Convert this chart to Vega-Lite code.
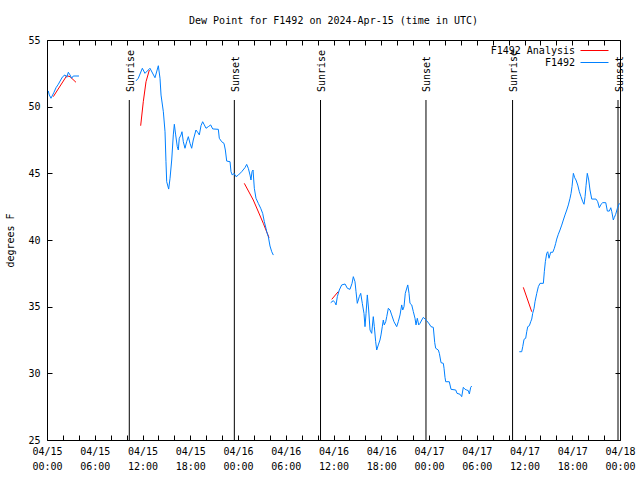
{
  "$schema": "https://vega.github.io/schema/vega-lite/v6.json",
  "width": 573,
  "height": 400,
  "autosize": {"type": "none"},
  "padding": {"left": 47, "top": 40, "right": 20, "bottom": 40},
  "background": "white",
  "title": {"text": "Dew Point for F1492 on 2024-Apr-15 (time in UTC)", "font": "DejaVu Sans Mono", "fontSize": 10, "fontWeight": "normal", "color": "black", "offset": 9, "anchor": "middle"},
  "config": {
    "view": {"stroke": "black", "strokeWidth": 1},
    "axis": {"grid": false, "domain": false, "tickColor": "black", "tickWidth": 1, "labelColor": "black", "labelFont": "DejaVu Sans Mono", "labelFontSize": 10, "titleFont": "DejaVu Sans Mono", "titleFontSize": 10, "titleFontWeight": "normal", "titleColor": "black"},
    "legend": {"orient": "none", "legendX": 542, "legendY": 5, "title": null, "symbolType": "M-2.8,0H2.8", "symbolSize": 100, "symbolStrokeWidth": 1, "labelAlign": "right", "labelOffset": -25, "labelFont": "DejaVu Sans Mono", "labelFontSize": 10, "labelColor": "black", "rowPadding": 1, "padding": 0}
  },
  "datasets": {
    "sun": [
      {"event": "Sunrise", "hour": 10.34},
      {"event": "Sunset", "hour": 23.54},
      {"event": "Sunrise", "hour": 34.37},
      {"event": "Sunset", "hour": 47.62},
      {"event": "Sunrise", "hour": 58.5},
      {"event": "Sunset", "hour": 71.75}
    ],
    "obs": [
      {"series": "F1492 Analysis", "seg": 1, "hour": 0.79, "value": 50.75},
      {"series": "F1492 Analysis", "seg": 1, "hour": 2.48, "value": 52.32},
      {"series": "F1492 Analysis", "seg": 1, "hour": 2.89, "value": 52.25},
      {"series": "F1492 Analysis", "seg": 1, "hour": 3.64, "value": 51.83},
      {"series": "F1492 Analysis", "seg": 2, "hour": 11.77, "value": 48.57},
      {"series": "F1492 Analysis", "seg": 2, "hour": 12.1, "value": 50.37},
      {"series": "F1492 Analysis", "seg": 2, "hour": 12.44, "value": 51.87},
      {"series": "F1492 Analysis", "seg": 2, "hour": 12.86, "value": 52.75},
      {"series": "F1492 Analysis", "seg": 3, "hour": 24.79, "value": 44.25},
      {"series": "F1492 Analysis", "seg": 3, "hour": 25.92, "value": 43.0},
      {"series": "F1492 Analysis", "seg": 3, "hour": 27.18, "value": 41.25},
      {"series": "F1492 Analysis", "seg": 3, "hour": 27.9, "value": 40.17},
      {"series": "F1492 Analysis", "seg": 4, "hour": 35.78, "value": 35.55},
      {"series": "F1492 Analysis", "seg": 4, "hour": 36.6, "value": 36.13},
      {"series": "F1492 Analysis", "seg": 5, "hour": 59.85, "value": 36.45},
      {"series": "F1492 Analysis", "seg": 5, "hour": 60.91, "value": 34.62},

      {"series": "F1492", "seg": 1, "hour": 0.16, "value": 51.18},
      {"series": "F1492", "seg": 1, "hour": 0.29, "value": 50.88},
      {"series": "F1492", "seg": 1, "hour": 0.5, "value": 50.63},
      {"series": "F1492", "seg": 1, "hour": 0.88, "value": 51.08},
      {"series": "F1492", "seg": 1, "hour": 1.13, "value": 51.42},
      {"series": "F1492", "seg": 1, "hour": 1.42, "value": 51.68},
      {"series": "F1492", "seg": 1, "hour": 1.72, "value": 52.0},
      {"series": "F1492", "seg": 1, "hour": 1.97, "value": 52.25},
      {"series": "F1492", "seg": 1, "hour": 2.26, "value": 52.38},
      {"series": "F1492", "seg": 1, "hour": 2.48, "value": 52.2},
      {"series": "F1492", "seg": 1, "hour": 2.68, "value": 52.58},
      {"series": "F1492", "seg": 1, "hour": 2.89, "value": 52.38},
      {"series": "F1492", "seg": 1, "hour": 3.1, "value": 52.13},
      {"series": "F1492", "seg": 1, "hour": 3.3, "value": 52.3},
      {"series": "F1492", "seg": 1, "hour": 4.02, "value": 52.3},

      {"series": "F1492", "seg": 2, "hour": 11.18, "value": 51.93},
      {"series": "F1492", "seg": 2, "hour": 11.47, "value": 52.13},
      {"series": "F1492", "seg": 2, "hour": 11.98, "value": 52.88},
      {"series": "F1492", "seg": 2, "hour": 12.31, "value": 52.5},
      {"series": "F1492", "seg": 2, "hour": 12.94, "value": 52.88},
      {"series": "F1492", "seg": 2, "hour": 13.57, "value": 52.17},
      {"series": "F1492", "seg": 2, "hour": 13.99, "value": 53.07},
      {"series": "F1492", "seg": 2, "hour": 14.2, "value": 52.13},
      {"series": "F1492", "seg": 2, "hour": 14.33, "value": 50.87},
      {"series": "F1492", "seg": 2, "hour": 14.62, "value": 49.62},
      {"series": "F1492", "seg": 2, "hour": 14.83, "value": 48.12},
      {"series": "F1492", "seg": 2, "hour": 14.95, "value": 45.87},
      {"series": "F1492", "seg": 2, "hour": 15.04, "value": 44.37},
      {"series": "F1492", "seg": 2, "hour": 15.29, "value": 43.82},
      {"series": "F1492", "seg": 2, "hour": 15.46, "value": 44.63},
      {"series": "F1492", "seg": 2, "hour": 15.67, "value": 46.0},
      {"series": "F1492", "seg": 2, "hour": 15.87, "value": 47.88},
      {"series": "F1492", "seg": 2, "hour": 16.0, "value": 48.68},
      {"series": "F1492", "seg": 2, "hour": 16.17, "value": 47.88},
      {"series": "F1492", "seg": 2, "hour": 16.37, "value": 47.0},
      {"series": "F1492", "seg": 2, "hour": 16.5, "value": 46.75},
      {"series": "F1492", "seg": 2, "hour": 16.62, "value": 47.63},
      {"series": "F1492", "seg": 2, "hour": 16.84, "value": 47.88},
      {"series": "F1492", "seg": 2, "hour": 16.96, "value": 48.12},
      {"series": "F1492", "seg": 2, "hour": 17.13, "value": 47.37},
      {"series": "F1492", "seg": 2, "hour": 17.34, "value": 46.88},
      {"series": "F1492", "seg": 2, "hour": 17.55, "value": 47.37},
      {"series": "F1492", "seg": 2, "hour": 17.76, "value": 47.75},
      {"series": "F1492", "seg": 2, "hour": 17.97, "value": 47.25},
      {"series": "F1492", "seg": 2, "hour": 18.18, "value": 46.88},
      {"series": "F1492", "seg": 2, "hour": 18.38, "value": 47.5},
      {"series": "F1492", "seg": 2, "hour": 18.72, "value": 48.25},
      {"series": "F1492", "seg": 2, "hour": 18.93, "value": 48.08},
      {"series": "F1492", "seg": 2, "hour": 19.14, "value": 47.88},
      {"series": "F1492", "seg": 2, "hour": 19.35, "value": 48.57},
      {"series": "F1492", "seg": 2, "hour": 19.56, "value": 48.87},
      {"series": "F1492", "seg": 2, "hour": 19.77, "value": 48.63},
      {"series": "F1492", "seg": 2, "hour": 19.98, "value": 48.38},
      {"series": "F1492", "seg": 2, "hour": 20.27, "value": 48.5},
      {"series": "F1492", "seg": 2, "hour": 20.57, "value": 48.63},
      {"series": "F1492", "seg": 2, "hour": 20.82, "value": 48.33},
      {"series": "F1492", "seg": 2, "hour": 21.53, "value": 48.3},
      {"series": "F1492", "seg": 2, "hour": 21.65, "value": 47.63},
      {"series": "F1492", "seg": 2, "hour": 21.95, "value": 47.37},
      {"series": "F1492", "seg": 2, "hour": 22.24, "value": 47.25},
      {"series": "F1492", "seg": 2, "hour": 22.41, "value": 46.75},
      {"series": "F1492", "seg": 2, "hour": 22.58, "value": 45.92},
      {"series": "F1492", "seg": 2, "hour": 23.0, "value": 45.87},
      {"series": "F1492", "seg": 2, "hour": 23.12, "value": 45.12},
      {"series": "F1492", "seg": 2, "hour": 23.29, "value": 44.87},
      {"series": "F1492", "seg": 2, "hour": 23.5, "value": 45.0},
      {"series": "F1492", "seg": 2, "hour": 23.75, "value": 44.75},
      {"series": "F1492", "seg": 2, "hour": 24.04, "value": 44.87},
      {"series": "F1492", "seg": 2, "hour": 24.46, "value": 45.12},
      {"series": "F1492", "seg": 2, "hour": 24.88, "value": 45.43},
      {"series": "F1492", "seg": 2, "hour": 25.09, "value": 45.67},
      {"series": "F1492", "seg": 2, "hour": 25.3, "value": 45.37},
      {"series": "F1492", "seg": 2, "hour": 25.51, "value": 44.87},
      {"series": "F1492", "seg": 2, "hour": 25.63, "value": 44.5},
      {"series": "F1492", "seg": 2, "hour": 25.76, "value": 45.12},
      {"series": "F1492", "seg": 2, "hour": 25.89, "value": 45.25},
      {"series": "F1492", "seg": 2, "hour": 26.05, "value": 43.88},
      {"series": "F1492", "seg": 2, "hour": 26.26, "value": 43.13},
      {"series": "F1492", "seg": 2, "hour": 26.55, "value": 42.75},
      {"series": "F1492", "seg": 2, "hour": 26.85, "value": 42.38},
      {"series": "F1492", "seg": 2, "hour": 27.1, "value": 42.0},
      {"series": "F1492", "seg": 2, "hour": 27.31, "value": 41.37},
      {"series": "F1492", "seg": 2, "hour": 27.52, "value": 40.87},
      {"series": "F1492", "seg": 2, "hour": 27.61, "value": 40.62},
      {"series": "F1492", "seg": 2, "hour": 27.81, "value": 40.25},
      {"series": "F1492", "seg": 2, "hour": 28.02, "value": 39.55},
      {"series": "F1492", "seg": 2, "hour": 28.24, "value": 39.12},
      {"series": "F1492", "seg": 2, "hour": 28.44, "value": 38.87},

      {"series": "F1492", "seg": 3, "hour": 35.65, "value": 35.3},
      {"series": "F1492", "seg": 3, "hour": 35.98, "value": 35.45},
      {"series": "F1492", "seg": 3, "hour": 36.19, "value": 35.3},
      {"series": "F1492", "seg": 3, "hour": 36.32, "value": 35.13},
      {"series": "F1492", "seg": 3, "hour": 36.48, "value": 35.75},
      {"series": "F1492", "seg": 3, "hour": 36.73, "value": 36.25},
      {"series": "F1492", "seg": 3, "hour": 37.03, "value": 36.63},
      {"series": "F1492", "seg": 3, "hour": 37.45, "value": 36.7},
      {"series": "F1492", "seg": 3, "hour": 37.74, "value": 36.38},
      {"series": "F1492", "seg": 3, "hour": 38.07, "value": 36.3},
      {"series": "F1492", "seg": 3, "hour": 38.33, "value": 36.75},
      {"series": "F1492", "seg": 3, "hour": 38.49, "value": 37.25},
      {"series": "F1492", "seg": 3, "hour": 38.7, "value": 36.87},
      {"series": "F1492", "seg": 3, "hour": 38.83, "value": 36.12},
      {"series": "F1492", "seg": 3, "hour": 38.99, "value": 35.25},
      {"series": "F1492", "seg": 3, "hour": 39.24, "value": 35.75},
      {"series": "F1492", "seg": 3, "hour": 39.42, "value": 36.0},
      {"series": "F1492", "seg": 3, "hour": 39.62, "value": 35.25},
      {"series": "F1492", "seg": 3, "hour": 39.83, "value": 34.5},
      {"series": "F1492", "seg": 3, "hour": 39.96, "value": 33.5},
      {"series": "F1492", "seg": 3, "hour": 40.09, "value": 34.5},
      {"series": "F1492", "seg": 3, "hour": 40.25, "value": 35.88},
      {"series": "F1492", "seg": 3, "hour": 40.42, "value": 34.75},
      {"series": "F1492", "seg": 3, "hour": 40.59, "value": 33.25},
      {"series": "F1492", "seg": 3, "hour": 40.8, "value": 33.0},
      {"series": "F1492", "seg": 3, "hour": 41.0, "value": 34.25},
      {"series": "F1492", "seg": 3, "hour": 41.13, "value": 33.5},
      {"series": "F1492", "seg": 3, "hour": 41.3, "value": 32.37},
      {"series": "F1492", "seg": 3, "hour": 41.43, "value": 31.75},
      {"series": "F1492", "seg": 3, "hour": 41.63, "value": 32.13},
      {"series": "F1492", "seg": 3, "hour": 41.84, "value": 32.5},
      {"series": "F1492", "seg": 3, "hour": 41.97, "value": 32.88},
      {"series": "F1492", "seg": 3, "hour": 42.13, "value": 33.5},
      {"series": "F1492", "seg": 3, "hour": 42.26, "value": 34.0},
      {"series": "F1492", "seg": 3, "hour": 42.38, "value": 33.63},
      {"series": "F1492", "seg": 3, "hour": 42.56, "value": 33.87},
      {"series": "F1492", "seg": 3, "hour": 42.69, "value": 34.25},
      {"series": "F1492", "seg": 3, "hour": 42.89, "value": 34.88},
      {"series": "F1492", "seg": 3, "hour": 43.1, "value": 34.75},
      {"series": "F1492", "seg": 3, "hour": 43.31, "value": 34.38},
      {"series": "F1492", "seg": 3, "hour": 43.6, "value": 33.87},
      {"series": "F1492", "seg": 3, "hour": 43.94, "value": 33.5},
      {"series": "F1492", "seg": 3, "hour": 44.14, "value": 33.87},
      {"series": "F1492", "seg": 3, "hour": 44.36, "value": 34.38},
      {"series": "F1492", "seg": 3, "hour": 44.57, "value": 35.13},
      {"series": "F1492", "seg": 3, "hour": 44.7, "value": 34.75},
      {"series": "F1492", "seg": 3, "hour": 44.86, "value": 35.0},
      {"series": "F1492", "seg": 3, "hour": 45.02, "value": 36.0},
      {"series": "F1492", "seg": 3, "hour": 45.33, "value": 36.63},
      {"series": "F1492", "seg": 3, "hour": 45.49, "value": 36.0},
      {"series": "F1492", "seg": 3, "hour": 45.61, "value": 35.25},
      {"series": "F1492", "seg": 3, "hour": 45.83, "value": 35.13},
      {"series": "F1492", "seg": 3, "hour": 46.03, "value": 34.63},
      {"series": "F1492", "seg": 3, "hour": 46.24, "value": 34.13},
      {"series": "F1492", "seg": 3, "hour": 46.37, "value": 33.63},
      {"series": "F1492", "seg": 3, "hour": 46.53, "value": 34.13},
      {"series": "F1492", "seg": 3, "hour": 46.71, "value": 33.63},
      {"series": "F1492", "seg": 3, "hour": 46.87, "value": 33.75},
      {"series": "F1492", "seg": 3, "hour": 47.09, "value": 34.0},
      {"series": "F1492", "seg": 3, "hour": 47.29, "value": 34.2},
      {"series": "F1492", "seg": 3, "hour": 47.71, "value": 33.95},
      {"series": "F1492", "seg": 3, "hour": 48.04, "value": 33.7},
      {"series": "F1492", "seg": 3, "hour": 48.25, "value": 33.5},
      {"series": "F1492", "seg": 3, "hour": 48.54, "value": 33.45},
      {"series": "F1492", "seg": 3, "hour": 48.72, "value": 32.3},
      {"series": "F1492", "seg": 3, "hour": 48.84, "value": 31.88},
      {"series": "F1492", "seg": 3, "hour": 49.17, "value": 31.75},
      {"series": "F1492", "seg": 3, "hour": 49.3, "value": 31.5},
      {"series": "F1492", "seg": 3, "hour": 49.51, "value": 30.8},
      {"series": "F1492", "seg": 3, "hour": 49.8, "value": 30.75},
      {"series": "F1492", "seg": 3, "hour": 49.89, "value": 30.38},
      {"series": "F1492", "seg": 3, "hour": 50.01, "value": 29.7},
      {"series": "F1492", "seg": 3, "hour": 50.1, "value": 29.37},
      {"series": "F1492", "seg": 3, "hour": 50.55, "value": 29.37},
      {"series": "F1492", "seg": 3, "hour": 50.77, "value": 28.8},
      {"series": "F1492", "seg": 3, "hour": 51.36, "value": 28.75},
      {"series": "F1492", "seg": 3, "hour": 51.52, "value": 28.5},
      {"series": "F1492", "seg": 3, "hour": 51.9, "value": 28.43},
      {"series": "F1492", "seg": 3, "hour": 52.11, "value": 28.25},
      {"series": "F1492", "seg": 3, "hour": 52.31, "value": 28.95},
      {"series": "F1492", "seg": 3, "hour": 52.53, "value": 28.8},
      {"series": "F1492", "seg": 3, "hour": 52.74, "value": 28.75},
      {"series": "F1492", "seg": 3, "hour": 52.94, "value": 28.7},
      {"series": "F1492", "seg": 3, "hour": 53.07, "value": 28.45},
      {"series": "F1492", "seg": 3, "hour": 53.24, "value": 28.95},
      {"series": "F1492", "seg": 3, "hour": 53.37, "value": 29.05},

      {"series": "F1492", "seg": 4, "hour": 59.35, "value": 31.62},
      {"series": "F1492", "seg": 4, "hour": 59.65, "value": 31.62},
      {"series": "F1492", "seg": 4, "hour": 59.78, "value": 32.0},
      {"series": "F1492", "seg": 4, "hour": 59.94, "value": 32.55},
      {"series": "F1492", "seg": 4, "hour": 60.15, "value": 32.63},
      {"series": "F1492", "seg": 4, "hour": 60.28, "value": 33.12},
      {"series": "F1492", "seg": 4, "hour": 60.41, "value": 33.5},
      {"series": "F1492", "seg": 4, "hour": 60.61, "value": 33.57},
      {"series": "F1492", "seg": 4, "hour": 60.78, "value": 33.87},
      {"series": "F1492", "seg": 4, "hour": 60.91, "value": 34.07},
      {"series": "F1492", "seg": 4, "hour": 61.03, "value": 34.5},
      {"series": "F1492", "seg": 4, "hour": 61.2, "value": 34.88},
      {"series": "F1492", "seg": 4, "hour": 61.32, "value": 35.37},
      {"series": "F1492", "seg": 4, "hour": 61.54, "value": 36.0},
      {"series": "F1492", "seg": 4, "hour": 61.74, "value": 36.5},
      {"series": "F1492", "seg": 4, "hour": 61.95, "value": 36.75},
      {"series": "F1492", "seg": 4, "hour": 62.37, "value": 36.75},
      {"series": "F1492", "seg": 4, "hour": 62.49, "value": 37.62},
      {"series": "F1492", "seg": 4, "hour": 62.62, "value": 38.37},
      {"series": "F1492", "seg": 4, "hour": 62.79, "value": 39.0},
      {"series": "F1492", "seg": 4, "hour": 62.92, "value": 39.12},
      {"series": "F1492", "seg": 4, "hour": 63.08, "value": 38.63},
      {"series": "F1492", "seg": 4, "hour": 63.29, "value": 39.08},
      {"series": "F1492", "seg": 4, "hour": 63.55, "value": 39.08},
      {"series": "F1492", "seg": 4, "hour": 63.75, "value": 39.38},
      {"series": "F1492", "seg": 4, "hour": 63.92, "value": 39.75},
      {"series": "F1492", "seg": 4, "hour": 64.05, "value": 40.07},
      {"series": "F1492", "seg": 4, "hour": 64.25, "value": 40.43},
      {"series": "F1492", "seg": 4, "hour": 64.46, "value": 40.75},
      {"series": "F1492", "seg": 4, "hour": 64.68, "value": 41.12},
      {"series": "F1492", "seg": 4, "hour": 64.88, "value": 41.5},
      {"series": "F1492", "seg": 4, "hour": 65.09, "value": 41.88},
      {"series": "F1492", "seg": 4, "hour": 65.31, "value": 42.25},
      {"series": "F1492", "seg": 4, "hour": 65.51, "value": 42.63},
      {"series": "F1492", "seg": 4, "hour": 65.72, "value": 43.13},
      {"series": "F1492", "seg": 4, "hour": 65.85, "value": 43.5},
      {"series": "F1492", "seg": 4, "hour": 65.97, "value": 44.0},
      {"series": "F1492", "seg": 4, "hour": 66.14, "value": 45.0},
      {"series": "F1492", "seg": 4, "hour": 66.31, "value": 44.67},
      {"series": "F1492", "seg": 4, "hour": 66.47, "value": 44.5},
      {"series": "F1492", "seg": 4, "hour": 66.69, "value": 44.12},
      {"series": "F1492", "seg": 4, "hour": 66.89, "value": 43.62},
      {"series": "F1492", "seg": 4, "hour": 67.1, "value": 43.25},
      {"series": "F1492", "seg": 4, "hour": 67.32, "value": 42.87},
      {"series": "F1492", "seg": 4, "hour": 67.48, "value": 42.68},
      {"series": "F1492", "seg": 4, "hour": 67.61, "value": 43.25},
      {"series": "F1492", "seg": 4, "hour": 67.73, "value": 44.07},
      {"series": "F1492", "seg": 4, "hour": 67.89, "value": 45.0},
      {"series": "F1492", "seg": 4, "hour": 68.07, "value": 44.5},
      {"series": "F1492", "seg": 4, "hour": 68.23, "value": 43.75},
      {"series": "F1492", "seg": 4, "hour": 68.45, "value": 43.07},
      {"series": "F1492", "seg": 4, "hour": 68.99, "value": 43.07},
      {"series": "F1492", "seg": 4, "hour": 69.2, "value": 42.87},
      {"series": "F1492", "seg": 4, "hour": 69.4, "value": 42.42},
      {"series": "F1492", "seg": 4, "hour": 69.62, "value": 42.68},
      {"series": "F1492", "seg": 4, "hour": 69.83, "value": 42.8},
      {"series": "F1492", "seg": 4, "hour": 70.21, "value": 42.8},
      {"series": "F1492", "seg": 4, "hour": 70.41, "value": 42.17},
      {"series": "F1492", "seg": 4, "hour": 70.66, "value": 42.17},
      {"series": "F1492", "seg": 4, "hour": 70.84, "value": 42.42},
      {"series": "F1492", "seg": 4, "hour": 70.97, "value": 42.12},
      {"series": "F1492", "seg": 4, "hour": 71.16, "value": 41.5},
      {"series": "F1492", "seg": 4, "hour": 71.29, "value": 41.7},
      {"series": "F1492", "seg": 4, "hour": 71.46, "value": 41.93},
      {"series": "F1492", "seg": 4, "hour": 71.67, "value": 42.37},
      {"series": "F1492", "seg": 4, "hour": 71.92, "value": 42.75}
    ]
  },
  "resolve": {"axis": {"x": "independent", "y": "independent"}},
  "layer": [
    {
      "data": {"name": "sun"},
      "mark": {"type": "rule", "color": "black", "strokeWidth": 1},
      "encoding": {
        "x": {"field": "hour", "type": "quantitative", "scale": {"domain": [0, 72], "nice": false, "zero": false},
          "axis": {"orient": "bottom", "values": [0,2,4,6,8,10,12,14,16,18,20,22,24,26,28,30,32,34,36,38,40,42,44,46,48,50,52,54,56,58,60,62,64,66,68,70,72], "tickSize": -5, "labelPadding": 11, "labelBaseline": "top", "labelLineHeight": 15, "labelAngle": 0, "labelOverlap": false, "labelFlush": false, "title": null,
            "labelExpr": "datum.value % 6 == 0 ? [utcFormat(utc(2024,3,15) + datum.value*3600000, '%m/%d'), utcFormat(utc(2024,3,15) + datum.value*3600000, '%H:%M')] : ''"}},
        "y": {"datum": 50.5, "type": "quantitative", "scale": {"domain": [25, 55], "nice": false, "zero": false},
          "axis": {"orient": "left", "values": [25,30,35,40,45,50,55], "tickSize": -5, "labelPadding": 12, "title": "degrees F", "titlePadding": 12, "labelFlush": false}},
        "y2": {"datum": 25}
      }
    },
    {
      "data": {"name": "sun"},
      "mark": {"type": "text", "angle": 270, "align": "left", "baseline": "middle", "dy": 1.5, "font": "DejaVu Sans Mono", "fontSize": 10, "color": "black"},
      "encoding": {
        "x": {"field": "hour", "type": "quantitative",
          "axis": {"orient": "top", "values": [0,2,4,6,8,10,12,14,16,18,20,22,24,26,28,30,32,34,36,38,40,42,44,46,48,50,52,54,56,58,60,62,64,66,68,70,72], "tickSize": -5, "labels": false, "title": null}},
        "y": {"datum": 51.1, "type": "quantitative",
          "axis": {"orient": "right", "values": [25,30,35,40,45,50,55], "tickSize": -5, "labels": false, "title": null}},
        "text": {"field": "event"}
      }
    },
    {
      "data": {"name": "obs"},
      "transform": [{"filter": "datum.series == 'F1492 Analysis'"}],
      "mark": {"type": "line", "strokeWidth": 1},
      "encoding": {
        "x": {"field": "hour", "type": "quantitative", "axis": null},
        "y": {"field": "value", "type": "quantitative", "axis": null},
        "detail": {"field": "seg"},
        "color": {"field": "series", "type": "nominal", "scale": {"domain": ["F1492 Analysis", "F1492"], "range": ["#ff0000", "#0080ff"]}}
      }
    },
    {
      "data": {"name": "obs"},
      "transform": [{"filter": "datum.series == 'F1492'"}],
      "mark": {"type": "line", "strokeWidth": 1},
      "encoding": {
        "x": {"field": "hour", "type": "quantitative", "axis": null},
        "y": {"field": "value", "type": "quantitative", "axis": null},
        "detail": {"field": "seg"},
        "color": {"field": "series", "type": "nominal", "scale": {"domain": ["F1492 Analysis", "F1492"], "range": ["#ff0000", "#0080ff"]}}
      }
    }
  ]
}
